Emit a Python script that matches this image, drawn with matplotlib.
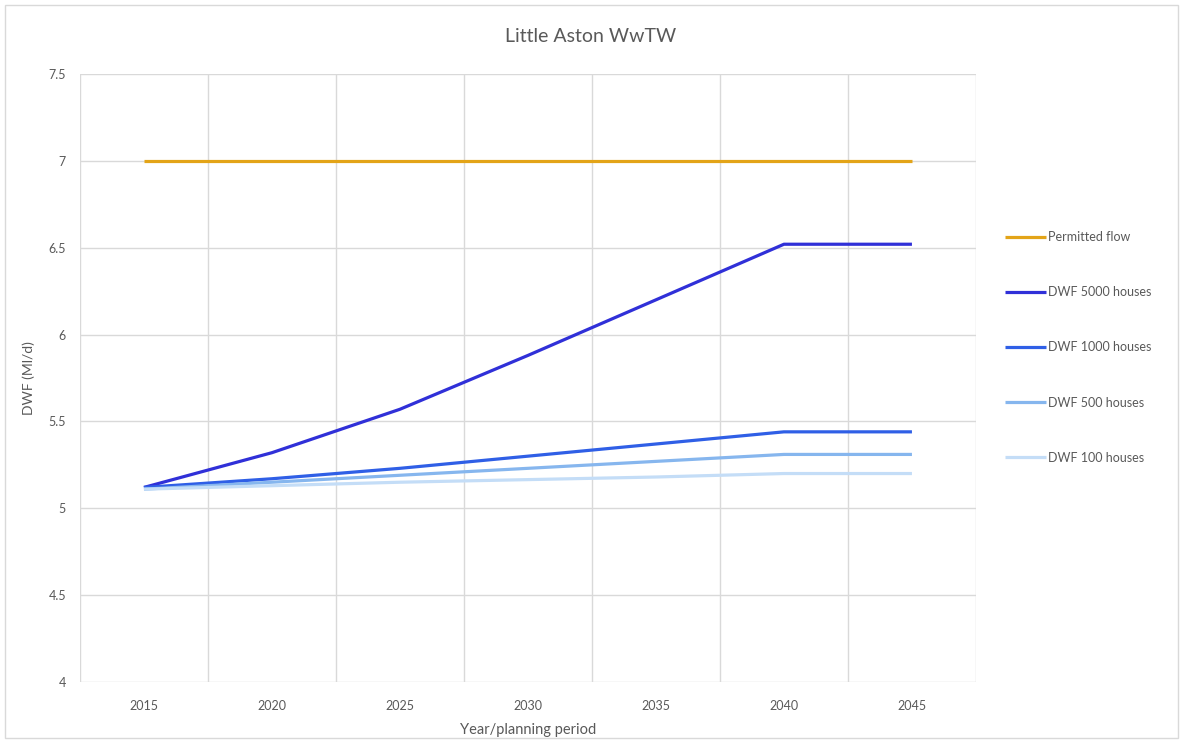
import matplotlib
matplotlib.use("Agg")
import matplotlib.pyplot as plt
from matplotlib.patches import Rectangle

plt.rcParams['font.family'] = ['Lato', 'DejaVu Sans']

years = ['2015', '2020', '2025', '2030', '2035', '2040', '2045']
permitted = [7.0, 7.0, 7.0, 7.0, 7.0, 7.0, 7.0]
dwf_5000 = [5.12, 5.32, 5.57, 5.88, 6.20, 6.52, 6.52]
dwf_1000 = [5.12, 5.17, 5.23, 5.30, 5.37, 5.44, 5.44]
dwf_500 = [5.11, 5.15, 5.19, 5.23, 5.27, 5.31, 5.31]
dwf_100 = [5.11, 5.13, 5.15, 5.165, 5.18, 5.20, 5.20]

series = [
    ('Permitted flow', permitted, '#E3A418'),
    ('DWF 5000 houses', dwf_5000, '#3030D8'),
    ('DWF 1000 houses', dwf_1000, '#2F5FE6'),
    ('DWF 500 houses', dwf_500, '#86B6EE'),
    ('DWF 100 houses', dwf_100, '#C4DDF7'),
]

text_col = '#595959'
grid_col = '#D9D9D9'

fig = plt.figure(figsize=(11.88, 7.4), dpi=100)
ax = fig.add_axes([0.0673, 0.0784, 0.7542, 0.8216])

x = list(range(len(years)))
for label, vals, col in series:
    ax.plot(x, vals, color=col, lw=2.3, label=label, solid_capstyle='butt')

ax.set_xlim(-0.5, len(years) - 0.5)
ax.set_ylim(4, 7.5)
ax.set_yticks([4, 4.5, 5, 5.5, 6, 6.5, 7, 7.5])
ax.set_yticklabels(['4', '4.5', '5', '5.5', '6', '6.5', '7', '7.5'])
ax.set_xticks(x)
ax.set_xticklabels(years)
ax.set_xticks([i - 0.5 for i in range(len(years) + 1)], minor=True)

ax.grid(True, axis='y', which='major', color=grid_col, lw=1)
ax.grid(True, axis='x', which='minor', color=grid_col, lw=1)
ax.grid(False, axis='x', which='major')
ax.set_axisbelow(True)
for s in ax.spines.values():
    s.set_visible(False)
ax.tick_params(which='both', length=0, colors=text_col, labelsize=9)
ax.tick_params(axis='x', pad=13)
ax.tick_params(axis='y', pad=10)

ax.set_xlabel('Year/planning period', color=text_col, fontsize=10.5, labelpad=8)
ax.set_ylabel('DWF (Ml/d)', color=text_col, fontsize=10, labelpad=10)
fig.text(0.497, 0.951, 'Little Aston WwTW', ha='center', va='center',
         color=text_col, fontsize=14)

leg = ax.legend(loc='upper left', bbox_to_anchor=(1.02, 0.76), frameon=False,
                fontsize=9, labelspacing=3.45, handlelength=3.3,
                handletextpad=0.1, labelcolor=text_col)

fig.patches.append(Rectangle((0.004, 0.003), 0.988, 0.99, transform=fig.transFigure,
                             fill=False, edgecolor='#D9D9D9', lw=1))

fig.savefig('out.png', dpi=100)
